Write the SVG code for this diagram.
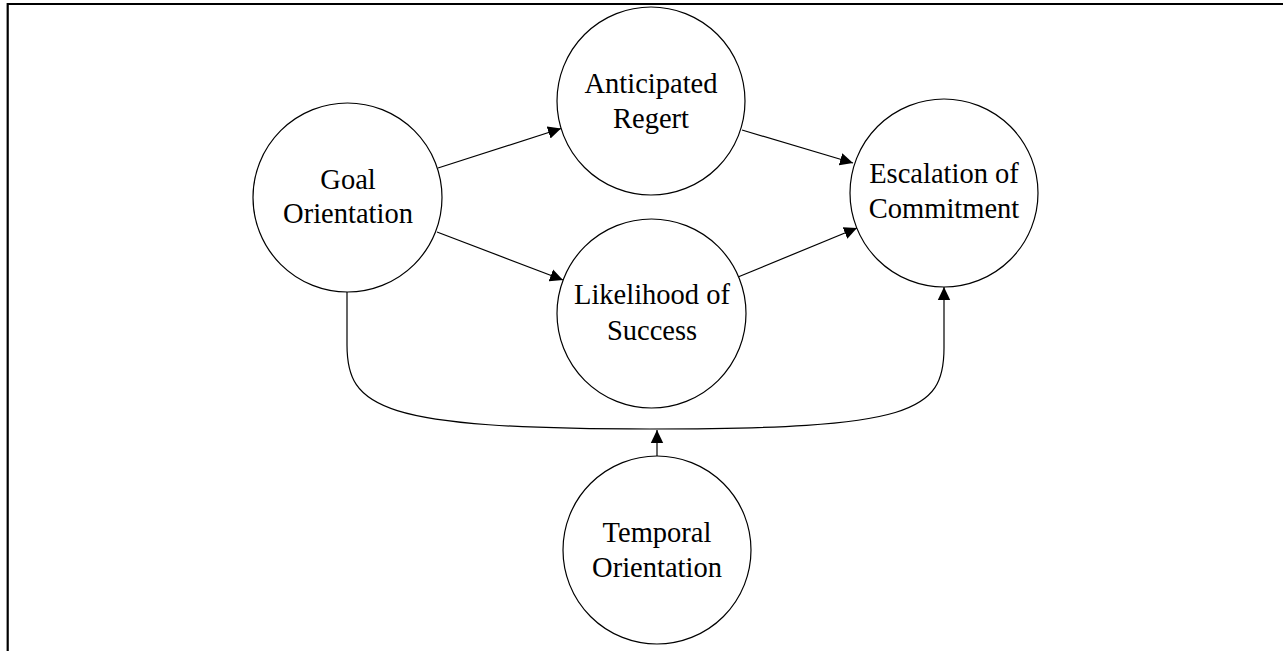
<svg xmlns="http://www.w3.org/2000/svg" width="1283" height="651" viewBox="0 0 1283 651">
<style>
.node circle{fill:#fff;stroke:#000;stroke-width:1.2}
.node text{font-family:"Liberation Serif","Times New Roman",serif;font-size:28.5px;fill:#000;text-anchor:middle}
.conn path{fill:none;stroke:#000;stroke-width:1.2}
.frame{fill:none;stroke:#000;stroke-width:2.2}
</style>
<defs>
<marker id="arr" markerUnits="userSpaceOnUse" markerWidth="14" markerHeight="14" viewBox="0 0 14 14" refX="13" refY="7" orient="auto">
<path d="M0,0.8 L13,7 L0,13.2 Z" fill="#000"/>
</marker>
</defs>
<rect width="1283" height="651" fill="#fff"/>
<path class="frame" d="M7.7,651 L7.7,4 L1283,4"/>
<g class="conn">
<path d="M438,168 L561,128.5" marker-end="url(#arr)"/>
<path d="M437,232 L563,280" marker-end="url(#arr)"/>
<path d="M742,130 L853,163" marker-end="url(#arr)"/>
<path d="M738,277 L857,228" marker-end="url(#arr)"/>
<path d="M347,292 L347,345 C347,408 380,429 650,429 C912,429 944,412 944,348 L944,287" marker-end="url(#arr)"/>
<path d="M657,456 L657,430" marker-end="url(#arr)"/>
</g>
<g id="goal" class="node">
<circle cx="347.5" cy="197.5" r="94.5"/>
<text x="348" y="189">Goal</text>
<text x="348" y="223">Orientation</text>
</g>
<g id="regret" class="node">
<circle cx="651" cy="101" r="94"/>
<text x="651" y="92.5">Anticipated</text>
<text x="651" y="127.5">Regert</text>
</g>
<g id="likelihood" class="node">
<circle cx="651.5" cy="313.5" r="94.5"/>
<text x="652" y="304">Likelihood of</text>
<text x="652" y="339.5">Success</text>
</g>
<g id="escalation" class="node">
<circle cx="944" cy="193" r="94"/>
<text x="944" y="183">Escalation of</text>
<text x="944" y="217.5">Commitment</text>
</g>
<g id="temporal" class="node">
<circle cx="657" cy="550" r="94"/>
<text x="657" y="541.5">Temporal</text>
<text x="657" y="576.5">Orientation</text>
</g>
</svg>
